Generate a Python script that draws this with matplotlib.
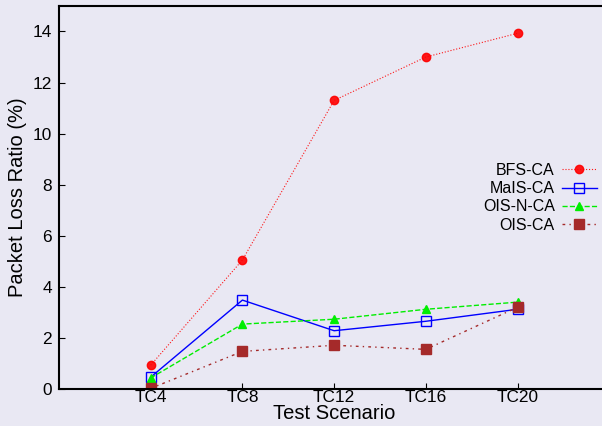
import matplotlib
matplotlib.use("Agg")
from matplotlib import pyplot as plt

scenarios = ["TC4", "TC8", "TC12", "TC16", "TC20"]
bfs_ca = [0.93, 5.05, 11.3, 13.0, 13.93]
mais_ca = [0.46, 3.48, 2.28, 2.65, 3.12]
ois_n_ca = [0.43, 2.54, 2.73, 3.12, 3.40]
ois_ca = [0.02, 1.47, 1.71, 1.55, 3.20]

bg = "#e9e8f3"
plt.rcParams["font.family"] = ["Liberation Sans", "DejaVu Sans"]

fig = plt.figure(figsize=(6.02, 4.26), dpi=100, facecolor=bg)
ax = fig.add_axes([0.098, 0.087, 0.914, 0.899], facecolor=bg)

x = range(1, len(scenarios) + 1)
ax.plot(x, bfs_ca, color="red", linestyle=":", linewidth=0.8, alpha=0.9,
        marker="o", markersize=6, label="BFS-CA")
ax.plot(x, mais_ca, color="blue", linestyle="-", linewidth=1.0,
        marker="s", markersize=7, markerfacecolor="none", label="MaIS-CA")
ax.plot(x, ois_n_ca, color="#00ee00", linestyle="--", linewidth=1.0,
        marker="^", markersize=6, label="OIS-N-CA")
ax.plot(x, ois_ca, color="#a52a2a", linestyle=(0, (2, 3, 1, 3)), linewidth=1.0,
        marker="s", markersize=7, label="OIS-CA")

ax.set_xlim(0, 6)
ax.set_ylim(0, 15)
ax.set_xticks(list(x))
ax.set_xticklabels(scenarios)
ax.set_yticks(range(0, 15, 2))
ax.tick_params(direction="in", length=4, width=0.8, labelsize=12.4, colors="black")
ax.tick_params(axis="x", pad=1)
ax.tick_params(axis="y", pad=5)
for s in ax.spines.values():
    s.set_linewidth(1.5)
ax.spines["right"].set_visible(False)

ax.set_xlabel("Test Scenario", fontsize=14.5, labelpad=-1)
ax.set_ylabel("Packet Loss Ratio (%)", fontsize=14.5, labelpad=4)

leg = ax.legend(loc="upper right", bbox_to_anchor=(597 / 602, 1 - 163 / 426),
                bbox_transform=fig.transFigure, frameon=False, markerfirst=False,
                fontsize=11.5, handlelength=2.2, handletextpad=0.45,
                labelspacing=0.2, borderpad=0, borderaxespad=0)

fig.savefig("out.png", dpi=100, facecolor=bg)
